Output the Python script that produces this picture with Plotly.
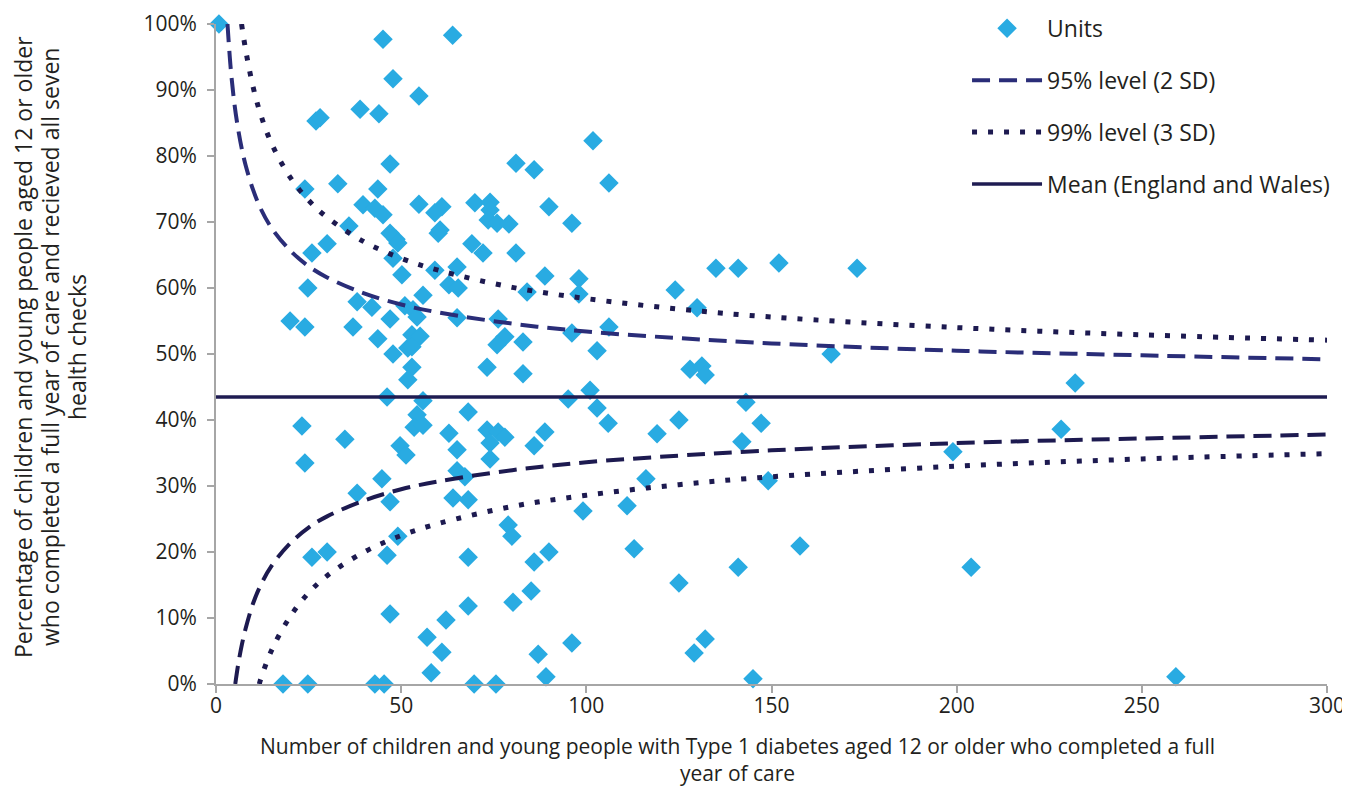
import plotly.graph_objects as go

# ---- data ----
unit_n = [0.8, 45.1, 63.9, 47.8, 54.8, 38.9, 44.0, 27.0, 28.1, 101.8,
          47.0, 81.0, 85.9, 106.1, 24.0, 32.9, 43.7, 39.7, 42.9, 45.1,
          54.8, 61.0, 59.1, 69.9, 74.0, 74.0, 73.5, 75.9, 79.1, 89.9,
          96.1, 35.9, 47.0, 60.0, 60.5, 48.6, 49.1, 30.0, 69.1, 25.9,
          47.8, 72.1, 81.0, 65.1, 59.1, 50.2, 135.0, 141.0, 152.0, 173.1,
          98.0, 88.8, 24.8, 62.9, 65.4, 84.0, 98.0, 124.0, 55.9, 38.1,
          42.1, 51.0, 129.9, 20.0, 24.0, 37.0, 53.2, 54.3, 47.0, 65.1,
          76.2, 43.7, 52.9, 55.1, 78.0, 75.9, 82.9, 106.1, 96.1, 102.9,
          166.1, 47.8, 51.8, 52.9, 52.9, 51.8, 73.2, 82.9, 128.0, 131.2,
          132.1, 101.0, 232.0, 46.2, 143.1, 95.1, 102.9, 105.9, 147.2, 125.0,
          68.1, 54.3, 55.9, 53.5, 55.9, 23.2, 73.2, 76.2, 78.0, 74.0,
          88.8, 119.1, 62.9, 34.8, 142.0, 228.2, 49.7, 51.3, 65.1, 85.9,
          24.0, 74.0, 199.0, 65.1, 67.2, 44.8, 116.1, 149.1, 38.1, 64.0,
          68.1, 47.0, 111.0, 99.1, 78.9, 79.9, 49.1, 25.9, 30.0, 46.2,
          68.1, 89.9, 85.9, 112.9, 157.7, 141.0, 203.9, 125.0, 85.1, 80.2,
          68.1, 47.0, 62.1, 57.0, 132.1, 96.1, 61.0, 87.0, 129.1, 58.1,
          89.1, 145.0, 259.2, 18.1, 24.8, 42.9, 45.4, 69.7, 75.6]
unit_pct = [100.0, 97.7, 98.3, 91.7, 89.1, 87.1, 86.4, 85.3, 85.8, 82.3,
            78.8, 78.9, 77.9, 75.9, 75.0, 75.8, 75.0, 72.6, 72.1, 71.1,
            72.7, 72.3, 71.4, 72.9, 73.0, 71.8, 70.3, 69.8, 69.7, 72.3,
            69.8, 69.4, 68.3, 68.3, 68.8, 67.4, 66.8, 66.7, 66.7, 65.3,
            64.5, 65.3, 65.3, 63.2, 62.7, 62.0, 63.0, 63.0, 63.8, 63.0,
            61.4, 61.8, 60.0, 60.5, 60.0, 59.4, 59.1, 59.7, 58.9, 57.9,
            57.1, 57.3, 57.0, 55.0, 54.1, 54.1, 56.7, 55.6, 55.3, 55.5,
            55.3, 52.3, 52.9, 52.7, 52.6, 51.4, 51.8, 54.1, 53.2, 50.5,
            50.0, 50.0, 50.9, 51.1, 48.0, 46.1, 48.0, 47.0, 47.7, 48.2,
            46.8, 44.5, 45.6, 43.5, 42.7, 43.2, 41.8, 39.5, 39.5, 40.0,
            41.2, 40.8, 42.9, 38.9, 39.2, 39.1, 38.5, 38.2, 37.4, 36.5,
            38.2, 37.9, 38.0, 37.1, 36.7, 38.6, 36.1, 34.7, 35.5, 36.1,
            33.5, 34.1, 35.2, 32.3, 31.4, 31.1, 31.1, 30.8, 28.9, 28.2,
            27.9, 27.6, 27.0, 26.2, 24.1, 22.4, 22.4, 19.2, 20.0, 19.5,
            19.2, 20.0, 18.5, 20.5, 20.9, 17.7, 17.7, 15.3, 14.1, 12.4,
            11.8, 10.6, 9.7, 7.1, 6.8, 6.2, 4.8, 4.5, 4.7, 1.7,
            1.1, 0.8, 1.1, 0.0, 0.0, 0.0, 0.0, 0.0, 0.0]

mean_pct = 43.5
mean_n = [0, 300]

upper95_n = [3.1, 4, 5, 6, 7, 8, 10, 12, 15, 20, 25, 30, 40, 50, 60, 80, 100, 125, 150, 200, 250, 300]
upper95 = [100.0, 93.1, 87.8, 84.0, 81.0, 78.6, 74.9, 72.1, 69.1, 65.7, 63.3, 61.6, 59.2, 57.5,
           56.3, 54.6, 53.4, 52.4, 51.6, 50.5, 49.8, 49.2]
lower95_n = [5.2, 6, 7, 8, 10, 12, 15, 20, 25, 30, 40, 50, 60, 80, 100, 125, 150, 200, 250, 300]
lower95 = [0.0, 3.0, 6.0, 8.4, 12.2, 14.9, 17.9, 21.3, 23.7, 25.4, 27.8, 29.5, 30.7, 32.4,
           33.6, 34.6, 35.4, 36.5, 37.2, 37.8]
upper99_n = [6.9, 8, 10, 12, 15, 20, 25, 30, 40, 50, 60, 80, 100, 125, 150, 200, 250, 300]
upper99 = [100.0, 96.1, 90.5, 86.4, 81.9, 76.8, 73.3, 70.7, 67.0, 64.5, 62.7, 60.1, 58.4, 56.8,
           55.6, 54.0, 52.9, 52.1]
lower99_n = [11.7, 12, 15, 20, 25, 30, 40, 50, 60, 80, 100, 125, 150, 200, 250, 300]
lower99 = [0.0, 0.6, 5.1, 10.2, 13.8, 16.4, 20.0, 22.5, 24.3, 26.9, 28.6, 30.2, 31.4, 33.0,
           34.1, 34.9]

x_ticks = [0, 50, 100, 150, 200, 250, 300]
y_ticks = [0, 10, 20, 30, 40, 50, 60, 70, 80, 90, 100]
y_tick_labels = [f"{v}%" for v in y_ticks]

x_title = ("Number of children and young people with Type 1 diabetes aged 12 or older who completed a full"
           "<br>year of care")
y_title_lines = ["Percentage of children and young people aged 12 or older",
                 "who completed a full year of care and recieved all seven",
                 "health checks"]

# ---- styles ----
C_UNIT = "#29ABE2"
C_DASH = "#2A2D78"
C_DOT = "#1D1A50"
C_MEAN = "#1F1C52"
FONT = "Open Sans"
TXT = "#231F20"

fig = go.Figure()

fig.add_trace(go.Scatter(
    x=unit_n, y=unit_pct, mode="markers", name="Units",
    marker=dict(symbol="diamond", size=15, color=C_UNIT, line=dict(width=0)),
    cliponaxis=False, legendgroup="a"))

fig.add_trace(go.Scatter(
    x=upper95_n, y=upper95, mode="lines", name="95% level (2 SD)",
    line=dict(color=C_DASH, width=4, dash="18px,9px", shape="spline"),
    legendgroup="b"))
fig.add_trace(go.Scatter(
    x=lower95_n, y=lower95, mode="lines", name="95% level (2 SD)", showlegend=False,
    line=dict(color=C_DOT, width=4, dash="18px,9px", shape="spline"),
    legendgroup="b"))

fig.add_trace(go.Scatter(
    x=upper99_n, y=upper99, mode="lines", name="99% level (3 SD)",
    line=dict(color=C_DOT, width=5, dash="5px,11px", shape="spline"),
    legendgroup="c"))
fig.add_trace(go.Scatter(
    x=lower99_n, y=lower99, mode="lines", name="99% level (3 SD)", showlegend=False,
    line=dict(color=C_DOT, width=5, dash="5px,11px", shape="spline"),
    legendgroup="c"))

fig.add_trace(go.Scatter(
    x=mean_n, y=[mean_pct, mean_pct], mode="lines", name="Mean (England and Wales)",
    line=dict(color=C_MEAN, width=3.5), legendgroup="d"))

axis_common = dict(
    showline=True, linecolor="#A6A6A6", linewidth=2,
    ticks="outside", ticklen=7, tickcolor="#A6A6A6", tickwidth=1.5,
    showgrid=False, zeroline=False, automargin=False,
    tickfont=dict(family=FONT, size=21, color=TXT),
)

annotations = [dict(
    text=x_title, xref="paper", yref="paper", x=0.4698, y=-0.114,
    xanchor="center", yanchor="middle", showarrow=False,
    font=dict(family=FONT, size=21, color=TXT))]
for i, line in enumerate(y_title_lines):
    annotations.append(dict(
        text=line, xref="paper", yref="paper", x=[-0.1737, -0.1494, -0.1251][i], y=0.5106,
        xanchor="center", yanchor="middle", showarrow=False, textangle=-90,
        font=dict(family=FONT, size=23, color=TXT)))

# page body has an 8px margin: size the figure so the plot area lands where the reference has it
fig.update_layout(
    width=1342, height=781,
    paper_bgcolor="white", plot_bgcolor="white",
    margin=dict(l=208, r=23, t=16, b=105, autoexpand=False),
    font=dict(family=FONT, color=TXT),
    showlegend=True,
    legend=dict(
        x=0.676, y=1.026, xanchor="left", yanchor="top",
        font=dict(family=FONT, size=23, color=TXT),
        tracegroupgap=19, bgcolor="rgba(0,0,0,0)",
        itemwidth=70,
    ),
    xaxis=dict(range=[0, 300], tickvals=x_ticks, ticklabelstandoff=-5, **axis_common),
    yaxis=dict(range=[0, 100], tickvals=y_ticks, ticktext=y_tick_labels,
               ticklabelstandoff=6, **axis_common),
    annotations=annotations,
)

fig.write_html("out.html")
